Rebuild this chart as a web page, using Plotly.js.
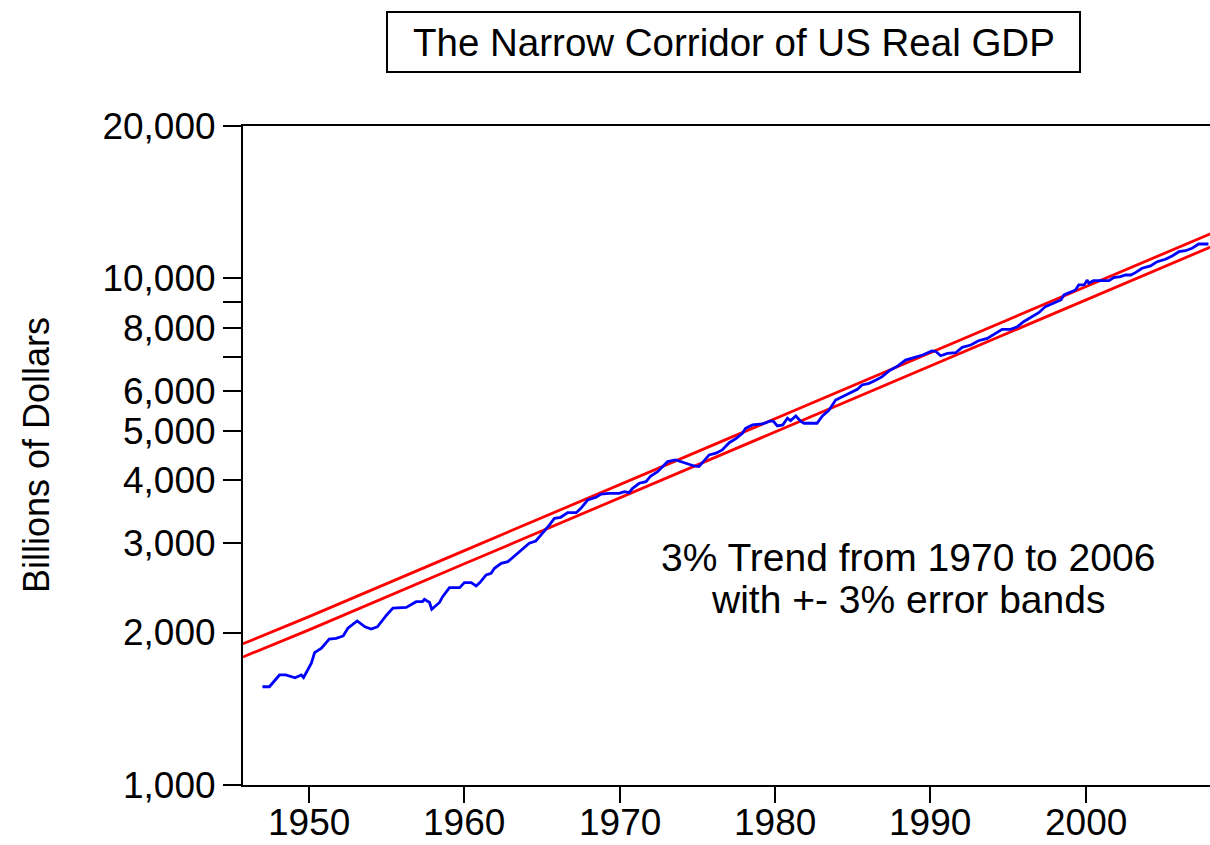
<!DOCTYPE html>
<html>
<head>
<meta charset="utf-8">
<script src="https://cdn.plot.ly/plotly-3.0.1.min.js"></script>
<style>
html, body { margin: 0; padding: 0; background: #fff; }
#chart { width: 1210px; height: 845px; }
</style>
</head>
<body>
<div id="chart"></div>
<script>
// Real GDP (billions of chained dollars)
const gdpYears = [
  1947.0, 1947.45, 1948.1, 1948.5, 1949.1, 1949.5, 1949.65, 1950.15, 1950.36, 1950.8,
  1951.3, 1951.75, 1952.2, 1952.5, 1953.1, 1953.6, 1954.0, 1954.4, 1955.0, 1955.4,
  1956.26, 1956.9, 1957.3, 1957.43, 1957.76, 1957.9, 1958.4, 1958.6, 1959.04, 1959.7,
  1960.0, 1960.44, 1960.76, 1961.0, 1961.4, 1961.72, 1961.94, 1962.37, 1962.8, 1963.33,
  1963.86, 1964.18, 1964.6, 1965.04, 1965.47, 1965.8, 1966.2, 1966.65, 1967.2, 1967.5,
  1967.94, 1968.48, 1968.8, 1969.33, 1969.97, 1970.3, 1970.6, 1970.83, 1971.26, 1971.69,
  1972.0, 1972.44, 1972.87, 1973.08, 1973.6, 1973.94, 1974.37, 1974.8, 1975.1, 1975.33,
  1975.76, 1976.2, 1976.6, 1977.05, 1977.48, 1977.9, 1978.1, 1978.55, 1979.2, 1979.7,
  1979.9, 1980.15, 1980.5, 1980.8, 1981.0, 1981.34, 1981.66, 1981.87, 1982.7, 1983.05,
  1983.48, 1983.9, 1984.33, 1984.87, 1985.3, 1985.6, 1986.05, 1986.5, 1986.9, 1987.34,
  1987.87, 1988.4, 1988.95, 1989.5, 1990.1, 1990.34, 1990.66, 1991.1, 1991.63, 1992.05,
  1992.6, 1993.1, 1993.66, 1994.2, 1994.62, 1995.16, 1995.6, 1996.0, 1996.55, 1997.0,
  1997.4, 1997.95, 1998.4, 1998.6, 1998.9, 1999.34, 1999.55, 1999.9, 2000.1, 2000.2,
  2000.5, 2001.5, 2001.8, 2002.24, 2002.56, 2002.9, 2003.2, 2003.63, 2004.17, 2004.6,
  2005.13, 2005.56, 2006.0, 2006.42, 2006.84, 2007.27, 2007.9
];
const gdpValues = [
  1563, 1563, 1649, 1649, 1628, 1649, 1630, 1739, 1825, 1862,
  1942, 1948, 1969, 2039, 2108, 2053, 2032, 2053, 2166, 2234,
  2242, 2301, 2301, 2326, 2293, 2223, 2293, 2354, 2453, 2453,
  2509, 2509, 2471, 2509, 2598, 2618, 2678, 2740, 2760, 2846,
  2947, 3001, 3032, 3140, 3260, 3362, 3377, 3449, 3449, 3518,
  3653, 3698, 3754, 3766, 3766, 3794, 3776, 3853, 3942, 3971,
  4075, 4155, 4284, 4349, 4383, 4349, 4317, 4264, 4252, 4330,
  4484, 4519, 4587, 4740, 4830, 4948, 5062, 5139, 5162, 5234,
  5222, 5115, 5139, 5297, 5240, 5352, 5222, 5178, 5178, 5352,
  5500, 5756, 5844, 5951, 6043, 6163, 6209, 6304, 6400, 6570,
  6710, 6902, 6987, 7063, 7193, 7181, 7039, 7116, 7136, 7313,
  7389, 7535, 7617, 7793, 7936, 7936, 8031, 8216, 8406, 8570,
  8800, 8966, 9070, 9279, 9351, 9491, 9710, 9710, 9932, 9783,
  9901, 9901, 10037, 10083, 10160, 10160, 10268, 10476, 10586, 10794,
  10912, 11075, 11294, 11346, 11470, 11697, 11697
];

// 3% trend error bands (+/- 3%)
const bandYears = [1945.75, 1950, 1960, 1970, 1980, 1990, 2000, 2008.1];
const upperBand = [1900, 2150, 2902, 3917, 5287, 7137, 9634, 12280];
const lowerBand = [1790, 2024, 2733, 3689, 4979, 6721, 9073, 11560];

// Axis ticks
const yTickVals = [1000, 2000, 3000, 4000, 5000, 6000, 7000, 8000, 9000, 10000, 20000];
const yTickText = ["1,000", "2,000", "3,000", "4,000", "5,000", "6,000", "", "8,000", "", "10,000", "20,000"];
const xTickVals = [1950, 1960, 1970, 1980, 1990, 2000];
const xTickText = ["1950", "1960", "1970", "1980", "1990", "2000"];

const titleText = "The Narrow Corridor of US Real GDP";
const yTitleText = "Billions of Dollars";
const noteLine1 = "3% Trend from 1970 to 2006";
const noteLine2 = "with +- 3% error bands";

const FONT = "Liberation Sans, Arial, sans-serif";
const NARROW = "Liberation Sans Narrow, Arial Narrow, Liberation Sans, sans-serif";

// plot area in pixels
const L = 243, R = 1210, T = 126, B = 785;
const px = x => (x - L) / (R - L);
const py = y => (B - y) / (B - T);

const traces = [
  { x: bandYears, y: upperBand, mode: "lines", line: { color: "#ff0000", width: 2.8 }, hoverinfo: "skip" },
  { x: bandYears, y: lowerBand, mode: "lines", line: { color: "#ff0000", width: 2.8 }, hoverinfo: "skip" },
  { x: gdpYears, y: gdpValues, mode: "lines", line: { color: "#0000ff", width: 2.8 } }
];

const layout = {
  width: 1210, height: 845,
  margin: { l: L, r: 1210 - R, t: T, b: 845 - B, pad: 0 },
  paper_bgcolor: "#ffffff", plot_bgcolor: "#ffffff",
  showlegend: false,
  font: { family: FONT, color: "#000", size: 37 },
  xaxis: {
    range: [1945.75, 2008.0],
    tickvals: xTickVals, ticktext: xTickText,
    ticks: "outside", ticklen: 16, tickwidth: 2, tickcolor: "#000",
    showline: true, linecolor: "#000", linewidth: 2, mirror: true,
    showgrid: false, zeroline: false,
    showticklabels: false
  },
  yaxis: {
    type: "log",
    range: [3, Math.log10(20000)],
    tickvals: yTickVals, ticktext: yTickText,
    ticks: "outside", ticklen: 18, tickwidth: 2, tickcolor: "#000",
    showline: true, linecolor: "#000", linewidth: 2,
    showgrid: false, zeroline: false,
    tickfont: { family: FONT, size: 37, color: "#000" }
  },
  shapes: [
    { type: "rect", xref: "paper", yref: "paper",
      x0: px(387), x1: px(1080), y0: py(72), y1: py(12),
      line: { color: "#000", width: 2 }, fillcolor: "rgba(0,0,0,0)" }
  ],
  annotations: [
    { xref: "paper", yref: "paper", x: px(734), y: py(43), xanchor: "center", yanchor: "middle",
      text: titleText, showarrow: false, font: { family: FONT, size: 38.5, color: "#000" } },
    { xref: "paper", yref: "paper", x: px(36), y: py(455), xanchor: "center", yanchor: "middle",
      text: yTitleText, textangle: -90, showarrow: false, font: { family: FONT, size: 36, color: "#000" } },
    { xref: "paper", yref: "paper", x: px(908), y: py(557), xanchor: "center", yanchor: "middle",
      text: noteLine1, showarrow: false, font: { family: FONT, size: 39, color: "#000" } },
    { xref: "paper", yref: "paper", x: px(908), y: py(599), xanchor: "center", yanchor: "middle",
      text: noteLine2, showarrow: false, font: { family: FONT, size: 39, color: "#000" } }
  ].concat(xTickVals.map((v, i) => ({
    xref: "x", yref: "paper", x: v, y: py(845), xanchor: "center", yanchor: "bottom",
    text: xTickText[i], showarrow: false,
    font: { family: NARROW, size: 37, color: "#000" }
  })))
};

Plotly.newPlot("chart", traces, layout, { staticPlot: true, displayModeBar: false });
</script>
</body>
</html>
